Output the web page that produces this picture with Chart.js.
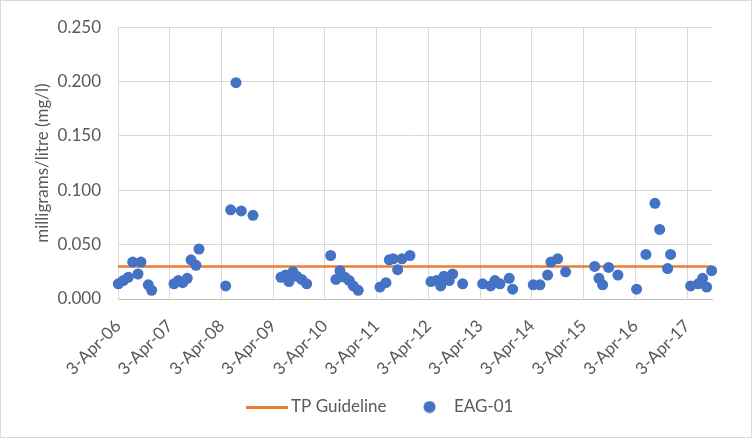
<!DOCTYPE html>
<html>
<head>
<meta charset="utf-8">
<script src="https://cdn.jsdelivr.net/npm/chart.js@4"></script>
<style>
  html, body { margin: 0; padding: 0; background: #fff; }
  canvas { display: block; }
</style>
</head>
<body>
<canvas id="tpChart" width="752" height="438"></canvas>
<script>
// sample dates, in years since 3-Apr-06
const sampleYears = [
  0.006, 0.102, 0.199, 0.284, 0.386, 0.444, 0.586, 0.651,
  1.082, 1.165, 1.250, 1.339, 1.411, 1.507, 1.565,
  2.081, 2.178, 2.280, 2.383, 2.609,
  3.150, 3.241, 3.304, 3.382, 3.453, 3.550, 3.646,
  4.110, 4.213, 4.290, 4.386, 4.470, 4.547, 4.643,
  5.063, 5.179, 5.243, 5.320, 5.405, 5.488, 5.643,
  6.048, 6.159, 6.236, 6.300, 6.402, 6.468, 6.661,
  7.047, 7.202, 7.285, 7.382, 7.561, 7.627,
  8.025, 8.155, 8.303, 8.367, 8.497, 8.651,
  9.212, 9.295, 9.366, 9.482, 9.662,
  10.023, 10.203, 10.377, 10.468, 10.622, 10.680,
  11.067, 11.213, 11.299, 11.376, 11.473
];
// total phosphorus at EAG-01, mg/l
const tpValues = [
  0.014, 0.017, 0.020, 0.034, 0.023, 0.034, 0.013, 0.008,
  0.014, 0.017, 0.015, 0.019, 0.036, 0.031, 0.046,
  0.012, 0.082, 0.199, 0.081, 0.077,
  0.020, 0.022, 0.016, 0.025, 0.021, 0.018, 0.014,
  0.040, 0.018, 0.026, 0.020, 0.017, 0.012, 0.008,
  0.011, 0.015, 0.036, 0.037, 0.027, 0.037, 0.040,
  0.016, 0.017, 0.012, 0.021, 0.017, 0.023, 0.014,
  0.014, 0.012, 0.017, 0.014, 0.019, 0.009,
  0.013, 0.013, 0.022, 0.034, 0.037, 0.025,
  0.030, 0.019, 0.013, 0.029, 0.022,
  0.009, 0.041, 0.088, 0.064, 0.028, 0.041,
  0.012, 0.014, 0.019, 0.011, 0.026
];
const guidelineYears = [0, 11.48];
const guidelineValues = [0.03, 0.03];

const xTickLabels = ['3-Apr-06', '3-Apr-07', '3-Apr-08', '3-Apr-09', '3-Apr-10', '3-Apr-11',
  '3-Apr-12', '3-Apr-13', '3-Apr-14', '3-Apr-15', '3-Apr-16', '3-Apr-17'];
const yTickLabels = ['0.000', '0.050', '0.100', '0.150', '0.200', '0.250'];

const BLUE = '#4472C4';
const ORANGE = '#ED7D31';
const TEXT = '#595959';
const GRID = '#d9d9d9';
const FONT = { family: 'Lato', size: 17 };

// little canvases used as legend icons
function makeIcon(kind) {
  const c = document.createElement('canvas');
  const g = c.getContext('2d');
  if (kind === 'line') {
    c.width = 42; c.height = 3;
    g.fillStyle = ORANGE;
    g.fillRect(0, 0, 42, 3);
  } else {
    c.width = 13; c.height = 13;
    g.fillStyle = BLUE;
    g.beginPath();
    g.arc(6.5, 6.5, 6, 0, Math.PI * 2);
    g.fill();
  }
  return c;
}
const lineIcon = makeIcon('line');
const dotIcon = makeIcon('dot');

const frame = {
  id: 'frame',
  beforeDraw(chart) {
    const ctx = chart.ctx;
    ctx.save();
    ctx.fillStyle = '#fff';
    ctx.fillRect(0, 0, chart.width, chart.height);
    ctx.restore();
  },
  afterLayout(chart) {
    // centre the legend on the whole picture and pull it up a little,
    // so the rotated date labels keep a tall enough box
    const lg = chart.legend;
    const h = lg.bottom - lg.top;
    lg.left = 12;
    lg.right = chart.width;
    lg.top = 371.5;
    lg.bottom = lg.top + h;
  },
  afterDraw(chart) {
    const ctx = chart.ctx;
    ctx.save();
    ctx.strokeStyle = GRID;
    ctx.lineWidth = 1;
    ctx.strokeRect(0.5, 0.5, chart.width - 1, chart.height - 1);
    ctx.restore();
  }
};

new Chart(document.getElementById('tpChart'), {
  type: 'scatter',
  data: {
    datasets: [
      {
        type: 'scatter',
        label: 'EAG-01',
        data: sampleYears.map((x, i) => ({ x: x, y: tpValues[i] })),
        backgroundColor: BLUE,
        borderColor: BLUE,
        borderWidth: 0,
        pointRadius: 5.5,
        clip: false,
        order: 1
      },
      {
        type: 'line',
        label: 'TP Guideline',
        data: guidelineYears.map((x, i) => ({ x: x, y: guidelineValues[i] })),
        borderColor: ORANGE,
        backgroundColor: ORANGE,
        borderWidth: 2.5,
        pointRadius: 0,
        fill: false,
        order: 2
      }
    ]
  },
  options: {
    responsive: false,
    animation: false,
    devicePixelRatio: 1,
    layout: { padding: { top: 24, right: 40, bottom: 0, left: 0 } },
    plugins: {
      tooltip: { enabled: false },
      legend: {
        position: 'bottom',
        labels: {
          usePointStyle: true,
          pointStyleWidth: 32,
          padding: 27,
          color: TEXT,
          font: FONT,
          generateLabels: () => [
            { text: 'TP Guideline', pointStyle: lineIcon, fillStyle: ORANGE, strokeStyle: ORANGE, lineWidth: 0, fontColor: TEXT, datasetIndex: 1, hidden: false },
            { text: 'EAG-01', pointStyle: dotIcon, fillStyle: BLUE, strokeStyle: BLUE, lineWidth: 0, fontColor: TEXT, datasetIndex: 0, hidden: false }
          ]
        }
      }
    },
    scales: {
      x: {
        type: 'linear',
        min: 0,
        max: 11.48,
        // one tick per labelled date, whole years from the start
        afterBuildTicks: (axis) => {
          axis.ticks = xTickLabels.map((_, i) => ({ value: i }));
        },
        afterFit: (s) => { s.height = 85; },
        ticks: {
          autoSkip: false,
          minRotation: 45,
          maxRotation: 45,
          padding: 17,
          color: TEXT,
          font: FONT,
          callback: (v) => xTickLabels[v] ?? ''
        },
        grid: { color: GRID, lineWidth: 1, drawTicks: false },
        border: { color: '#bfbfbf', width: 1 }
      },
      y: {
        min: 0,
        max: 0.25,
        afterFit: (s) => { s.width = 118; },
        ticks: {
          stepSize: 0.05,
          padding: 17,
          color: TEXT,
          font: FONT,
          callback: (v, i) => yTickLabels[i]
        },
        grid: { color: GRID, lineWidth: 1, drawTicks: false },
        border: { color: GRID, width: 1 },
        title: {
          display: true,
          text: 'milligrams/litre (mg/l)',
          color: TEXT,
          font: FONT,
          padding: { top: 32, bottom: 0 }
        }
      }
    }
  },
  plugins: [frame]
});
</script>
</body>
</html>
